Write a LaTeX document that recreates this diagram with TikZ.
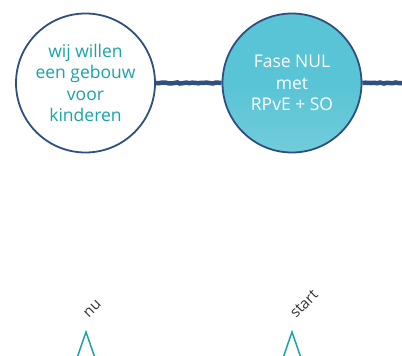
\documentclass[tikz,border=0pt]{standalone}
\usepackage{fontspec}
\setmainfont{Open Sans}
\usepackage{xcolor}
\usetikzlibrary{positioning,calc,decorations.pathmorphing}

\definecolor{navy}{HTML}{2E4F80}
\definecolor{teal}{HTML}{1BA3A6}
\definecolor{sky}{HTML}{58C4D5}
\definecolor{skylight}{HTML}{72CCDA}
\definecolor{ink}{HTML}{333333}

\begin{document}
\begin{tikzpicture}[
    x=1pt, y=1pt,
    phase/.style={circle, draw=navy, line width=1.8pt, minimum size=139pt, inner sep=0pt, align=center, font=\fontsize{17.5}{21.5}\selectfont},
    rough/.style={draw=navy, line width=4.5pt, decorate, decoration={random steps, segment length=3pt, amplitude=0.6pt}},
    marker/.style={draw=teal, line width=1.5pt, line join=miter},
    tag/.style={rotate=45, text=ink, font=\fontsize{15}{17}\selectfont}
]
\useasboundingbox (0,0) rectangle (402,356);

% fases
\node[phase, fill=white, text=teal] (wens) at (85.5,273) {wij willen\\een gebouw\\voor\\kinderen};
\node[phase, top color=sky, bottom color=skylight, middle color=sky, text=white] (nul) at (292,273) {Fase NUL\\met\\RPvE + SO};
\coordinate (verder) at (402,273);

% tijdlijn
\draw[rough] (wens.east) -- (nul.west);
\draw[rough] (nul.east) -- (verder);

% markeringen
\coordinate (nupunt) at (86,24);
\coordinate (startpunt) at (292,24);
\draw[marker] ($(nupunt)+(-9,-26)$) -- (nupunt) -- ($(nupunt)+(9,-26)$);
\draw[marker] ($(startpunt)+(-9,-26)$) -- (startpunt) -- ($(startpunt)+(9,-26)$);
\node[tag] (nu) at (92.5,47) {nu};
\node[tag] (start) at (304,52) {start};
\end{tikzpicture}
\end{document}
